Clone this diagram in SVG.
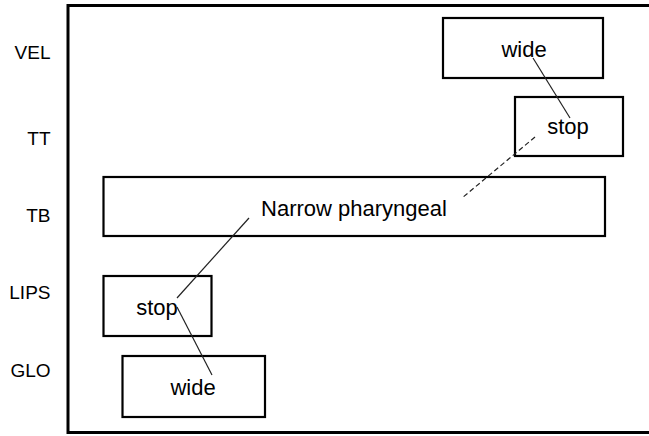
<svg xmlns="http://www.w3.org/2000/svg" width="649" height="436" viewBox="0 0 649 436">
<style>
.box{fill:#fff;stroke:#000;stroke-width:2.2}
.t{font-family:"Liberation Sans",Arial,sans-serif;font-size:22px;fill:#000;text-anchor:middle}
.lab{font-family:"Liberation Sans",Arial,sans-serif;font-size:19px;fill:#000;text-anchor:end}
.ln{stroke:#222;stroke-width:1.2;fill:none}
</style>
<rect width="649" height="436" fill="#fff"/>
<rect x="68" y="5.5" width="620" height="427" fill="none" stroke="#000" stroke-width="3"/>
<g id="labels">
<text class="lab" x="50.5" y="59">VEL</text>
<text class="lab" x="50.5" y="145">TT</text>
<text class="lab" x="50.5" y="222">TB</text>
<text class="lab" x="50.5" y="299">LIPS</text>
<text class="lab" x="50.5" y="377">GLO</text>
</g>
<g id="vel-wide"><rect class="box" x="443" y="18" width="160" height="60"/><text class="t" x="524" y="57">wide</text></g>
<g id="tt-stop"><rect class="box" x="515" y="97" width="108" height="59"/><text class="t" x="568" y="134">stop</text></g>
<g id="tb-narrow"><rect class="box" x="103.5" y="177" width="501.5" height="59"/><text class="t" x="354" y="216">Narrow pharyngeal</text></g>
<g id="lips-stop"><rect class="box" x="103.5" y="276" width="108" height="60"/><text class="t" x="157" y="315">stop</text></g>
<g id="glo-wide"><rect class="box" x="122.5" y="356" width="142.5" height="61"/><text class="t" x="193" y="395">wide</text></g>
<g id="connectors">
<line class="ln" x1="533" y1="58" x2="570" y2="118"/>
<line class="ln" x1="535" y1="137" x2="462" y2="198" stroke-dasharray="5,3"/>
<line class="ln" x1="249" y1="218" x2="177" y2="298"/>
<line class="ln" x1="177" y1="307" x2="212" y2="375"/>
</g>
</svg>
